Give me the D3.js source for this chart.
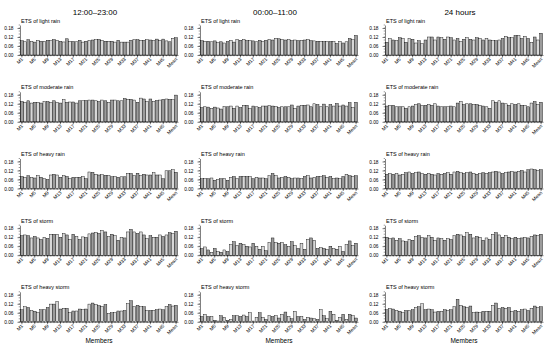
<!DOCTYPE html>
<html><head><meta charset="utf-8">
<script src="https://cdn.jsdelivr.net/npm/d3@7"></script>
<style>body{margin:0;background:#fff}svg{display:block;font-family:"Liberation Sans",Arial,sans-serif}</style>
</head><body><svg id="c" width="550" height="348"></svg>
<script>
const periods = ["12:00\u201323:00", "00:00\u201311:00", "24 hours"];
const events = ["light rain", "moderate rain", "heavy rain", "storm", "heavy storm"];
const members = d3.range(1, 49).map(i => "M" + i).concat(["Mean"]);
const xTickLabels = ["M1","M5","M9","M13","M17","M21","M25","M29","M33","M37","M41","M45","Mean"];
const yTicks = [0, 0.06, 0.12, 0.18];

// 12:00-23:00
const dayLight = [0.095,0.088,0.102,0.092,0.086,0.098,0.092,0.092, 0.098,0.096,0.103,0.098,0.092,0.087,0.108,0.092, 0.090,0.088,0.098,0.086,0.092,0.098,0.100,0.102, 0.104,0.098,0.092,0.092,0.092,0.086,0.098,0.086, 0.086,0.086,0.098,0.102,0.102,0.098,0.098,0.102, 0.100,0.096,0.106,0.098,0.106,0.094,0.088,0.112, 0.115];
const dayModerate = [0.135,0.130,0.140,0.125,0.130,0.130,0.125,0.135, 0.135,0.130,0.140,0.130,0.125,0.148,0.130,0.132, 0.132,0.125,0.140,0.140,0.142,0.145,0.145,0.140, 0.135,0.145,0.140,0.130,0.145,0.145,0.140,0.140, 0.155,0.150,0.150,0.145,0.130,0.158,0.152,0.135, 0.152,0.135,0.142,0.145,0.150,0.152,0.150,0.148, 0.178];
const dayHeavy = [0.080,0.075,0.085,0.075,0.070,0.085,0.075,0.065, 0.060,0.090,0.095,0.090,0.075,0.085,0.080,0.065, 0.075,0.075,0.075,0.080,0.065,0.110,0.108,0.095, 0.090,0.092,0.088,0.085,0.078,0.080,0.075,0.078, 0.078,0.100,0.100,0.085,0.102,0.085,0.095,0.090, 0.090,0.105,0.090,0.090,0.065,0.118,0.118,0.125, 0.108];
const dayStorm = [0.130,0.135,0.130,0.115,0.125,0.115,0.105,0.120, 0.112,0.140,0.140,0.140,0.120,0.145,0.135,0.105, 0.140,0.125,0.105,0.122,0.118,0.142,0.148,0.152, 0.145,0.165,0.155,0.125,0.140,0.130,0.100,0.120, 0.115,0.155,0.172,0.155,0.145,0.155,0.135,0.110, 0.130,0.120,0.120,0.135,0.125,0.135,0.150,0.145, 0.160];
const dayHeavyStorm = [0.080,0.100,0.095,0.075,0.070,0.060,0.080,0.080, 0.095,0.118,0.118,0.135,0.085,0.090,0.090,0.060, 0.072,0.072,0.085,0.080,0.085,0.118,0.125,0.115, 0.108,0.102,0.115,0.055,0.060,0.060,0.072,0.072, 0.075,0.120,0.140,0.100,0.110,0.100,0.100,0.075, 0.075,0.075,0.080,0.085,0.080,0.100,0.115,0.105, 0.110];

// 00:00-11:00
const nightLight = [0.095,0.092,0.092,0.088,0.094,0.082,0.088,0.080, 0.090,0.098,0.086,0.104,0.098,0.104,0.096,0.096, 0.094,0.088,0.098,0.090,0.098,0.104,0.100,0.112, 0.108,0.104,0.100,0.102,0.096,0.100,0.096,0.098, 0.100,0.104,0.096,0.094,0.092,0.092,0.090,0.090, 0.090,0.090,0.076,0.090,0.080,0.088,0.110,0.102, 0.130];
const nightModerate = [0.095,0.100,0.098,0.090,0.098,0.092,0.085,0.102, 0.100,0.105,0.090,0.105,0.095,0.110,0.110,0.088, 0.105,0.100,0.095,0.105,0.105,0.108,0.105,0.102, 0.095,0.100,0.100,0.100,0.112,0.090,0.105,0.110, 0.110,0.112,0.100,0.120,0.115,0.100,0.118,0.100, 0.115,0.105,0.122,0.105,0.112,0.105,0.128,0.095, 0.130];
const nightHeavy = [0.065,0.065,0.065,0.070,0.055,0.060,0.065,0.065, 0.055,0.075,0.080,0.065,0.080,0.080,0.080,0.080, 0.065,0.075,0.070,0.070,0.065,0.085,0.100,0.085, 0.070,0.075,0.080,0.075,0.065,0.070,0.070,0.065, 0.080,0.085,0.070,0.075,0.080,0.080,0.085,0.075, 0.080,0.065,0.070,0.065,0.080,0.095,0.085,0.080, 0.085];
const nightStorm = [0.045,0.055,0.035,0.020,0.045,0.025,0.020,0.035, 0.025,0.070,0.090,0.065,0.080,0.070,0.060,0.055, 0.080,0.060,0.040,0.060,0.030,0.085,0.115,0.085, 0.080,0.085,0.070,0.060,0.090,0.065,0.045,0.080, 0.040,0.105,0.115,0.100,0.045,0.050,0.045,0.040, 0.060,0.045,0.040,0.060,0.025,0.070,0.095,0.065, 0.080];
const nightHeavyStorm = [0.035,0.050,0.035,0.035,0.010,0.005,0.040,0.030, 0.010,0.015,0.040,0.040,0.035,0.045,0.035,0.060, 0.005,0.030,0.060,0.030,0.015,0.040,0.035,0.040, 0.025,0.050,0.065,0.035,0.020,0.070,0.035,0.035, 0.015,0.030,0.025,0.020,0.015,0.080,0.040,0.020, 0.070,0.050,0.010,0.030,0.050,0.015,0.050,0.040, 0.025];

// 24 hours
const fullLight = [0.085,0.110,0.100,0.095,0.115,0.110,0.085,0.110, 0.105,0.080,0.095,0.075,0.100,0.120,0.120,0.100, 0.120,0.115,0.105,0.120,0.115,0.100,0.110,0.090, 0.105,0.115,0.105,0.100,0.115,0.110,0.100,0.110, 0.100,0.095,0.095,0.100,0.110,0.125,0.115,0.115, 0.130,0.130,0.110,0.125,0.110,0.085,0.120,0.100, 0.145];
const fullModerate = [0.105,0.110,0.110,0.100,0.100,0.100,0.090,0.100, 0.105,0.115,0.120,0.110,0.110,0.115,0.110,0.120, 0.105,0.100,0.100,0.100,0.105,0.100,0.125,0.135, 0.115,0.120,0.120,0.115,0.115,0.110,0.105,0.100, 0.090,0.140,0.130,0.140,0.125,0.120,0.110,0.120, 0.115,0.120,0.110,0.110,0.100,0.125,0.135,0.115, 0.130];
const fullHeavy = [0.095,0.100,0.095,0.100,0.090,0.095,0.105,0.110, 0.100,0.105,0.110,0.100,0.095,0.100,0.095,0.090, 0.100,0.095,0.100,0.105,0.095,0.110,0.115,0.105, 0.100,0.105,0.110,0.100,0.095,0.100,0.105,0.100, 0.105,0.110,0.115,0.110,0.100,0.105,0.110,0.115, 0.110,0.115,0.120,0.110,0.125,0.130,0.125,0.120, 0.125];
const fullStorm = [0.120,0.110,0.115,0.100,0.110,0.095,0.090,0.105, 0.100,0.125,0.130,0.120,0.115,0.130,0.120,0.100, 0.115,0.110,0.100,0.110,0.105,0.130,0.140,0.135, 0.125,0.150,0.140,0.115,0.125,0.120,0.100,0.115, 0.105,0.140,0.150,0.135,0.120,0.130,0.120,0.110, 0.120,0.110,0.115,0.120,0.115,0.125,0.135,0.130, 0.140];
const fullHeavyStorm = [0.080,0.090,0.085,0.075,0.070,0.060,0.075,0.075, 0.080,0.095,0.100,0.120,0.080,0.085,0.080,0.065, 0.070,0.070,0.080,0.075,0.080,0.100,0.150,0.110, 0.100,0.095,0.105,0.060,0.065,0.060,0.070,0.070, 0.070,0.110,0.125,0.090,0.095,0.090,0.095,0.070, 0.075,0.070,0.080,0.085,0.075,0.090,0.105,0.095, 0.100];

const grid = [
  [dayLight, dayModerate, dayHeavy, dayStorm, dayHeavyStorm],
  [nightLight, nightModerate, nightHeavy, nightStorm, nightHeavyStorm],
  [fullLight, fullModerate, fullHeavy, fullStorm, fullHeavyStorm]
];

const svg = d3.select("#c");
const colX = [20, 200, 385];
const W = 158;
const baseY = [55, 121.8, 188.5, 255.2, 321.8];
const H = 30;

const x = d3.scaleBand().domain(members).range([0, W]).paddingInner(0.12).paddingOuter(0.15);
const y = d3.scaleLinear().domain([0, 0.2]).range([H, 0]);
const fills = ["#9c9c9c", "#d8d8d8"];

periods.forEach((p, c) => {
  svg.append("text").attr("x", colX[c] + W / 2 - 4).attr("y", 14.5)
    .attr("text-anchor", "middle").attr("font-size", 8).attr("fill", "#000").text(p);
  svg.append("text").attr("x", colX[c] + W / 2).attr("y", 343)
    .attr("text-anchor", "middle").attr("font-size", 6.5).attr("fill", "#000").text("Members");
  events.forEach((ev, r) => {
    const vals = grid[c][r];
    const g = svg.append("g").attr("transform", `translate(${colX[c]},${baseY[r] - H})`);
    g.selectAll("rect").data(members).join("rect")
      .attr("x", d => x(d)).attr("width", x.bandwidth())
      .attr("y", (d, i) => y(vals[i])).attr("height", (d, i) => H - y(vals[i]))
      .attr("fill", (d, i) => fills[i % 2]).attr("stroke", "#000").attr("stroke-width", 0.4);
    const ya = g.append("g").call(d3.axisLeft(y).tickValues(yTicks).tickFormat(d3.format(".2f")).tickSize(2.5).tickSizeOuter(0));
    ya.selectAll("text").attr("font-size", 4.8).attr("fill", "#000").attr("font-family", "Liberation Sans, Arial, sans-serif").attr("dx", "-0.2em");
    ya.selectAll("path,line").attr("stroke-width", 0.5);
    g.append("g").selectAll("line").data(d3.range(0, 0.201, 0.02)).join("line")
      .attr("x1", -1.3).attr("x2", 0).attr("y1", d => y(d)).attr("y2", d => y(d))
      .attr("stroke", "#000").attr("stroke-width", 0.4);
    const xa = g.append("g").attr("transform", `translate(0,${H})`)
      .call(d3.axisBottom(x).tickValues(xTickLabels).tickSize(2.5).tickSizeOuter(0));
    xa.selectAll("path,line").attr("stroke-width", 0.5);
    xa.selectAll("text").attr("font-size", 4.8).attr("fill", "#000").attr("font-family", "Liberation Sans, Arial, sans-serif")
      .attr("text-anchor", "end").attr("dy", 0).attr("y", 0)
      .attr("transform", "translate(1.5,4.5) rotate(-45)");
    g.append("g").attr("transform", `translate(0,${H})`).selectAll("line").data(members).join("line")
      .attr("x1", d => x(d) + x.bandwidth() / 2).attr("x2", d => x(d) + x.bandwidth() / 2)
      .attr("y1", 0).attr("y2", 1.3).attr("stroke", "#000").attr("stroke-width", 0.4);
    g.append("text").attr("x", 1).attr("y", -2.5).attr("font-size", 5.5)
      .attr("fill", "#000").text("ETS of " + ev);
  });
});
</script></body></html>
